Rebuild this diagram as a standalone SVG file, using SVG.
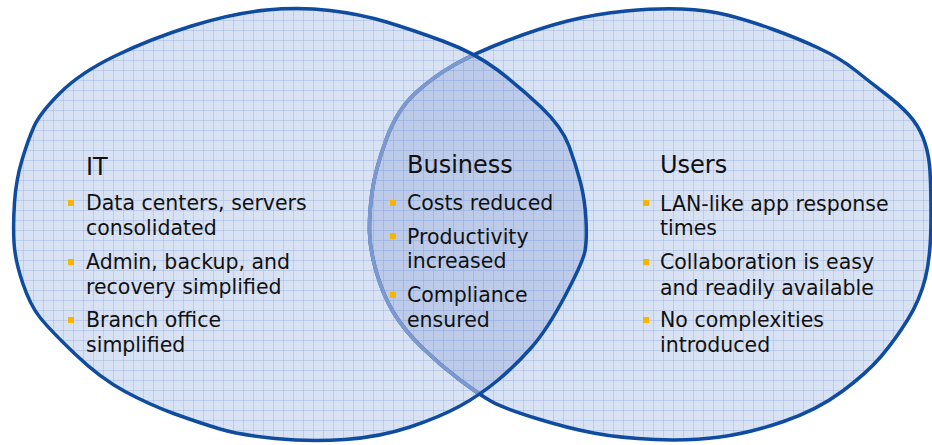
<svg xmlns="http://www.w3.org/2000/svg" width="932" height="445" viewBox="0 0 932 445">
  <style>
    .title { font-family: "Comic Sans MS", "DejaVu Sans", sans-serif; font-size: 24px; fill: #111; }
    .body { font-family: "Comic Sans MS", "DejaVu Sans", sans-serif; font-size: 20.5px; fill: #111; }
    .bullet { fill: #f7b500; }
    .base { fill: #d9e2f3; }
    .gridfill { fill: url(#grid); }
    .outline { fill: none; stroke: #0f4b9f; stroke-width: 3.5; stroke-linejoin: round; }
    .faded { fill: none; stroke: #7b98cf; stroke-width: 3.8; stroke-linejoin: round; }
  </style>
  <defs>
    <pattern id="grid" x="3" y="0" width="10" height="10" patternUnits="userSpaceOnUse">
      <path d="M0.5 0 V10 M0 0.5 H10" fill="none" stroke="#97b1e4" stroke-opacity="0.45" stroke-width="1"/>
    </pattern>
    <path id="leftShape" d="M330,10.5 Q360,14 386.5,22 Q413,30 444,41.5 Q475,53 497.5,70 Q520,87 541,107 Q562,127 569,146 Q576,165 580.5,182.5 Q585,200 586,220 Q587,240 585,251 Q583,262 565,296 Q547,330 531,348 Q515,366 497.5,380.5 Q480,395 460,406 Q440,417 410,427 Q380,437 345,439.5 Q310,442 275,438.5 Q240,435 220,429 Q200,423 175,414 Q150,405 125,391.5 Q100,378 75,354 Q50,330 40,317.5 Q30,305 22.5,282.5 Q15,260 14,242.5 Q13,225 14.5,202.5 Q16,180 22,160 Q28,140 34,126.5 Q40,113 60,93 Q80,73 115,56 Q150,39 191.5,26 Q233,13 266.5,10 Q300,7 330,10.5 Z"/>
    <path id="rightShape" d="M682,9 Q707,10 727,15 Q747,20 772,29 Q797,38 818.5,48 Q840,58 855,70 Q870,82 885,93.5 Q900,105 909,115 Q918,125 923,137.5 Q928,150 929.5,165 Q931,180 931,217.5 Q931,255 925.5,277.5 Q920,300 907.5,320 Q895,340 881,356.5 Q867,373 842,391.5 Q817,410 783.5,421.5 Q750,433 720,437 Q690,441 655,439.5 Q620,438 593.5,433 Q567,428 535,418 Q503,408 491.5,401.5 Q480,395 460,380 Q440,365 422,347.5 Q404,330 393.5,312.5 Q383,295 376.5,272.5 Q370,250 369.5,232.5 Q369,215 372,192.5 Q375,170 386,140 Q397,110 415,93.5 Q433,77 454,65 Q475,53 507.5,40.5 Q540,28 567.5,21 Q595,14 626,11 Q657,8 682,9 Z"/>
    <clipPath id="leftClip">
      <use href="#leftShape"/>
    </clipPath>
  </defs>
  <rect width="932" height="445" fill="#ffffff"/>
  <g id="circles">
    <use href="#leftShape" class="base"/>
    <use href="#rightShape" class="base"/>
    <use href="#rightShape" fill="#bdcbe8" clip-path="url(#leftClip)"/>
    <use href="#leftShape" class="gridfill"/>
    <use href="#rightShape" class="gridfill"/>
    <use href="#rightShape" class="outline"/>
    <use href="#rightShape" class="faded" clip-path="url(#leftClip)"/>
    <use href="#leftShape" class="outline"/>
  </g>
  <g id="it">
    <text class="title" x="86" y="175">IT</text>
    <rect class="bullet" x="68" y="200" width="6" height="6"/>
    <text class="body" x="86" y="210">Data centers, servers</text>
    <text class="body" x="86" y="235">consolidated</text>
    <rect class="bullet" x="68" y="259" width="6" height="6"/>
    <text class="body" x="86" y="269">Admin, backup, and</text>
    <text class="body" x="86" y="294">recovery simplified</text>
    <rect class="bullet" x="68" y="317" width="6" height="6"/>
    <text class="body" x="86" y="327">Branch office</text>
    <text class="body" x="86" y="352">simplified</text>
  </g>
  <g id="business">
    <text class="title" x="407" y="173">Business</text>
    <rect class="bullet" x="390" y="200" width="6" height="6"/>
    <text class="body" x="407" y="210">Costs reduced</text>
    <rect class="bullet" x="390" y="233" width="6" height="6"/>
    <text class="body" x="407" y="244">Productivity</text>
    <text class="body" x="407" y="268">increased</text>
    <rect class="bullet" x="390" y="292" width="6" height="6"/>
    <text class="body" x="407" y="302">Compliance</text>
    <text class="body" x="407" y="327">ensured</text>
  </g>
  <g id="users">
    <text class="title" x="660" y="173">Users</text>
    <rect class="bullet" x="643" y="200" width="6" height="6"/>
    <text class="body" x="660" y="211">LAN-like app response</text>
    <text class="body" x="660" y="235">times</text>
    <rect class="bullet" x="643" y="259" width="6" height="6"/>
    <text class="body" x="660" y="269">Collaboration is easy</text>
    <text class="body" x="660" y="295">and readily available</text>
    <rect class="bullet" x="643" y="317" width="6" height="6"/>
    <text class="body" x="660" y="327">No complexities</text>
    <text class="body" x="660" y="352">introduced</text>
  </g>
</svg>
